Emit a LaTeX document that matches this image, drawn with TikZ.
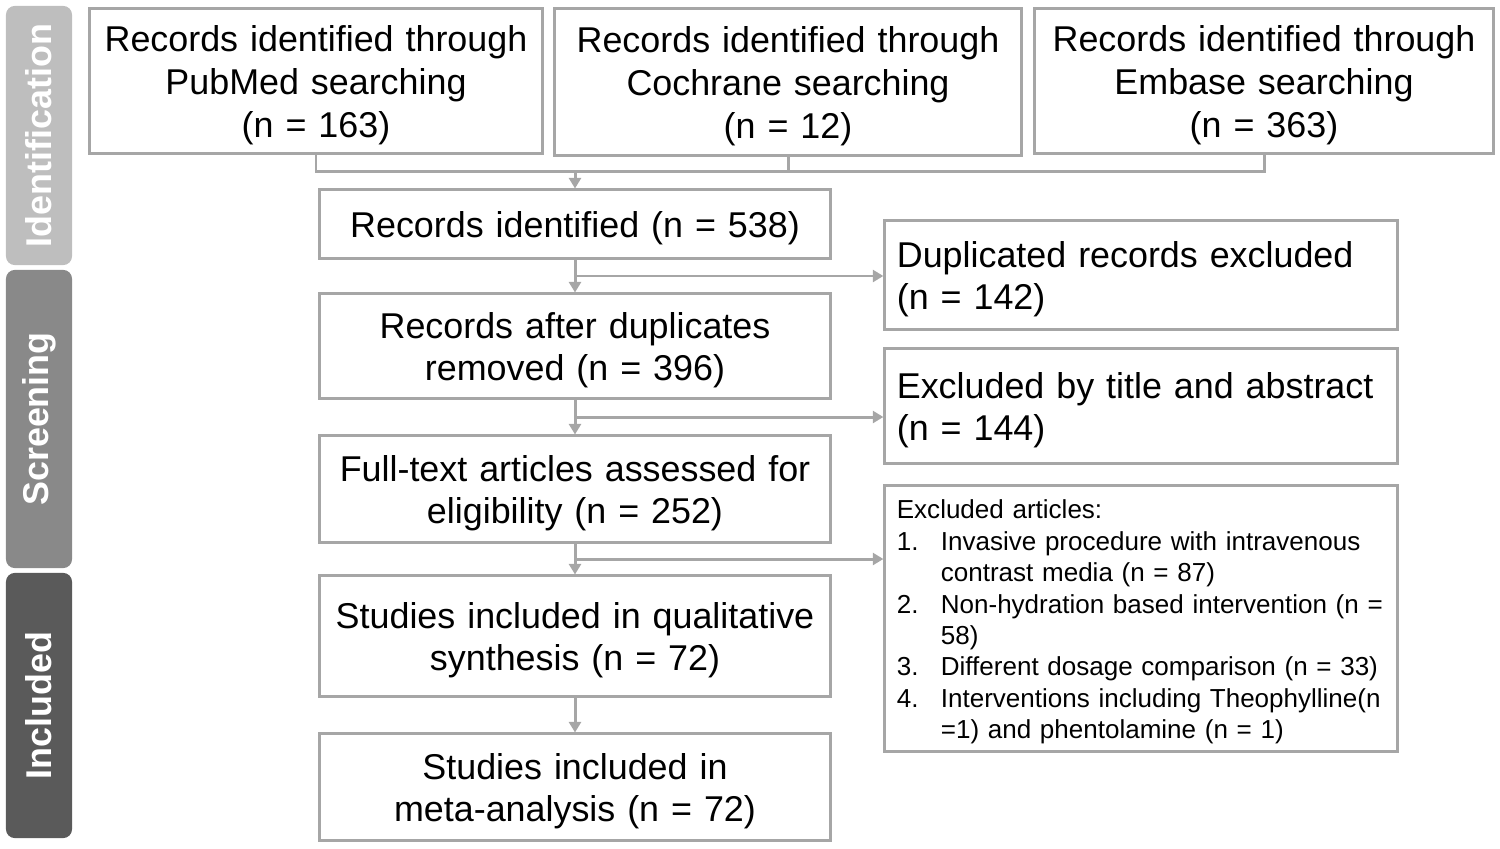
\documentclass[tikz,border=0pt]{standalone}
\usepackage{fontspec}
\setmainfont{Liberation Sans}
\usetikzlibrary{arrows.meta,calc}

\definecolor{boxgray}{HTML}{A6A6A6}
\definecolor{idgray}{HTML}{BEBEBE}
\definecolor{scgray}{HTML}{898989}
\definecolor{ingray}{HTML}{5A5A5A}

\newcommand{\bigtxt}{\fontsize{10.2}{12.2}\selectfont}
\newcommand{\smalltxt}{\fontsize{7.4}{8.93}\selectfont}

\tikzset{
	box/.style={draw=boxgray, line width=0.85pt, inner sep=0pt, align=center, font={\bigtxt\rule{0pt}{9.8pt}}},
	srcbox/.style={box, text width=4.3cm},
	flowbox/.style={box, text width=4.9cm, minimum width=5.11cm},
	exbox/.style={box, align=left, text width=4.88cm, minimum width=5.12cm},
	phase/.style={rounded corners=2.5pt, minimum height=0.66cm, inner sep=0pt, rotate=90, text=white, font=\bigtxt\bfseries},
	link/.style={draw=boxgray, line width=0.85pt},
	arrow/.style={link, -{Triangle[length=3pt,width=3.4pt]}}
}

\begin{document}
\begin{tikzpicture}[x=0.01cm, y=-0.01cm]
		\useasboundingbox (0,0) rectangle (1500,848);
		% phases
		\node[phase, fill=idgray, minimum width=2.59cm] (idbar) at (39,135.5) {Identification};
		\node[phase, fill=scgray, minimum width=2.98cm] (scbar) at (39,419) {Screening};
		\node[phase, fill=ingray, minimum width=2.65cm] (inbar) at (39,705.5) {Included};
		% sources
		\node[srcbox, minimum width=4.52cm, minimum height=1.44cm] (pubmed) at (316,81) {Records identified through\\PubMed searching\\(n = 163)};
		\node[srcbox, minimum width=4.66cm, minimum height=1.46cm] (cochrane) at (788,82) {Records identified through\\Cochrane searching\\(n = 12)};
		\node[srcbox, minimum width=4.58cm, minimum height=1.44cm] (embase) at (1264,81) {Records identified through\\Embase searching\\(n = 363)};
		% main flow
		\node[flowbox, minimum height=0.68cm] (ident) at (575,224) {Records identified (n = 538)};
		\node[flowbox, minimum height=1.04cm] (dedup) at (575,346) {Records after duplicates\\removed (n = 396)};
		\node[flowbox, minimum height=1.06cm] (fulltext) at (575,489) {Full-text articles assessed for\\eligibility (n = 252)};
		\node[flowbox, minimum height=1.20cm] (qual) at (575,636) {Studies included in qualitative\\synthesis (n = 72)};
		\node[flowbox, minimum height=1.06cm] (meta) at (575,787) {Studies included in\\meta-analysis (n = 72)};
		% exclusions
		\node[exbox, minimum height=1.08cm] (dupx) at (1141,275) {Duplicated records excluded\\(n = 142)};
		\node[exbox, minimum height=1.14cm] (titlex) at (1141,406) {Excluded by title and abstract\\(n = 144)};
		\node[exbox, minimum height=2.65cm, font=\smalltxt] (artx) at (1141,618.5) {%
			\begin{tabular}{@{}p{0.44cm}@{}l@{}}
				\multicolumn{2}{@{}l@{}}{\rule{0pt}{8.5pt}Excluded articles:}\\
				1. & Invasive procedure with intravenous\\
				& contrast media (n = 87)\\
				2. & Non-hydration based intervention (n =\\
				& 58)\\
				3. & Different dosage comparison (n = 33)\\
				4. & Interventions including Theophylline(n\\
				& =1) and phentolamine (n = 1)
			\end{tabular}};
		% connectors
		\coordinate (merge) at (575,171);
		\draw[link] (pubmed.south) |- (merge) -| (embase.south);
		\draw[link] (cochrane.south) -- (cochrane.south |- merge);
		\draw[arrow] (merge) -- (ident.north);
		\draw[arrow] (ident.south) -- (dedup.north);
		\draw[arrow] (dedup.south) -- (fulltext.north);
		\draw[arrow] (fulltext.south) -- (qual.north);
		\draw[arrow] (qual.south) -- (meta.north);
		\coordinate (b1) at ($(ident.south)!0.5!(dedup.north)$);
		\coordinate (b2) at ($(dedup.south)!0.5!(fulltext.north)$);
		\coordinate (b3) at ($(fulltext.south)!0.5!(qual.north)$);
		\draw[arrow] (b1) -- (b1 -| dupx.west);
		\draw[arrow] (b2) -- (b2 -| titlex.west);
		\draw[arrow] (b3) -- (b3 -| artx.west);
\end{tikzpicture}
\end{document}
